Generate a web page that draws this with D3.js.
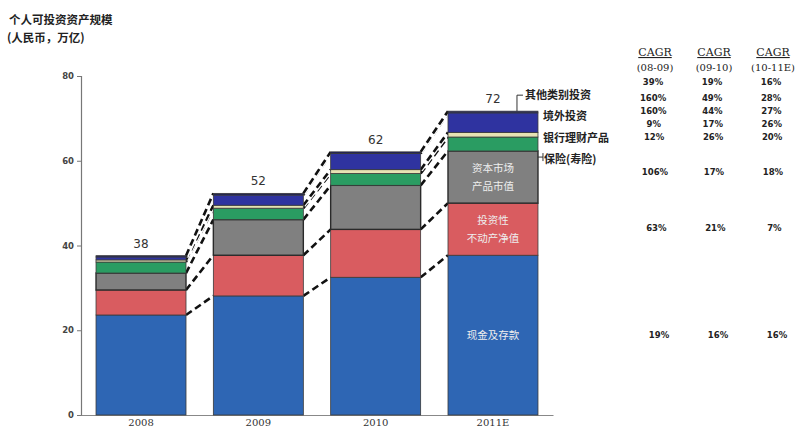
<!DOCTYPE html>
<html><head><meta charset="utf-8">
<script src="https://cdn.jsdelivr.net/npm/d3@7"></script>
<style>body{margin:0;background:#fff;} svg{display:block;}</style>
</head><body>
<svg id="c" width="803" height="430"></svg>
<script>
const years = ["2008", "2009", "2010", "2011E"];
const seriesNames = ["现金及存款", "投资性不动产净值", "资本市场产品市值", "保险(寿险)", "银行理财产品", "境外投资", "其他类别投资"];
const cash      = [23.6, 28.1, 32.5, 37.7];
const property  = [5.9, 9.6, 11.3, 12.3];
const capital   = [4.0, 8.4, 10.4, 12.3];
const insurance = [2.6, 2.7, 2.8, 3.3];
const wealthMgmt= [0.5, 0.7, 0.9, 1.1];
const overseas  = [0.7, 2.4, 3.8, 4.6];
const other     = [0.3, 0.4, 0.4, 0.4];
const totals    = ["38", "52", "62", "72"];
const yTicks    = [0, 20, 40, 60, 80];
const cagrHeaders = [["CAGR", "(08-09)"], ["CAGR", "(09-10)"], ["CAGR", "(10-11E)"]];
const cagrTotal = ["39%", "19%", "16%"];
const cagrRows = [ // top-down: 其他, 境外, 银行理财, 保险, 资本市场, 不动产, 现金
  ["160%", "49%", "28%"],
  ["160%", "44%", "27%"],
  ["9%", "17%", "26%"],
  ["12%", "26%", "20%"],
  ["106%", "17%", "18%"],
  ["63%", "21%", "7%"],
  ["19%", "16%", "16%"]
];

const seriesValues = [cash, property, capital, insurance, wealthMgmt, overseas, other];
const colors = ["#2e66b4", "#d95c60", "#808080", "#2a9c62", "#e6e2b4", "#2f33a0", "#1c1f5c"];

const svg = d3.select("#c");
const x = d3.scaleBand().domain(years).range([81, 553]).paddingInner(0.233).paddingOuter(0.128);
const y = d3.scaleLinear().domain([0, 80]).range([415, 76]);
const bw = x.bandwidth();

const table = years.map((yr, i) => {
  const o = {year: yr};
  seriesNames.forEach((s, k) => o[s] = seriesValues[k][i]);
  return o;
});
const stack = d3.stack().keys(seriesNames)(table);

// title
const tg = svg.append("g").attr("font-family", "'Noto Sans CJK SC', sans-serif").attr("font-weight", "bold").attr("fill", "#222").attr("font-size", 11.5);
tg.append("text").attr("x", 9).attr("y", 24).text("个人可投资资产规模");
tg.append("text").attr("x", 7).attr("y", 42).text("(人民币，万亿)");

// y axis
const ya = svg.append("g").attr("transform", "translate(81,0)")
  .call(d3.axisLeft(y).tickValues(yTicks).tickSize(4).tickPadding(3));
ya.select(".domain").attr("stroke", "#777").attr("stroke-width", 1.2);
ya.selectAll(".tick line").attr("stroke", "#777");
ya.selectAll("text").attr("font-family", "'DejaVu Sans', sans-serif").attr("font-size", 8.5).attr("font-weight", "bold").attr("fill", "#444");

// x axis
const xa = svg.append("g").attr("transform", "translate(0,415)")
  .call(d3.axisBottom(x).tickSize(0).tickPadding(4));
xa.select(".domain").attr("stroke", "#888").attr("stroke-width", 1.2);
xa.selectAll("text").attr("font-family", "'DejaVu Serif', serif").attr("font-size", 10).attr("fill", "#333");

// dashed connectors
const cg = svg.append("g");
stack.forEach(layer => {
  for (let i = 0; i < years.length - 1; i++) {
    const x1 = x(years[i]) + bw, y1 = y(layer[i][1]);
    const x2 = x(years[i + 1]), y2 = y(layer[i + 1][1]);
    cg.append("line").attr("x1", x1).attr("y1", y1).attr("x2", x2).attr("y2", y2)
      .attr("stroke", "#fff").attr("stroke-width", 5);
    cg.append("line").attr("x1", x1).attr("y1", y1).attr("x2", x2).attr("y2", y2)
      .attr("stroke", "#111").attr("stroke-width", 2.6).attr("stroke-dasharray", "7,4");
  }
});

// bars
const bg = svg.append("g");
stack.forEach((layer, k) => {
  bg.selectAll(null).data(layer).enter().append("rect")
    .attr("x", d => x(d.data.year))
    .attr("width", bw)
    .attr("y", d => y(d[1]))
    .attr("height", d => y(d[0]) - y(d[1]))
    .attr("fill", colors[k])
    .attr("stroke", k === 2 ? "#2a2a2a" : "#3a3a3a")
    .attr("stroke-width", k === 2 ? 1.4 : 0.8);
});

// total labels
const topLayer = stack[stack.length - 1];
svg.append("g").selectAll("text").data(topLayer).enter().append("text")
  .attr("x", d => x(d.data.year) + bw / 2)
  .attr("y", d => y(d[1]) - 8)
  .attr("text-anchor", "middle")
  .attr("font-family", "'DejaVu Sans', sans-serif").attr("font-size", 12).attr("fill", "#333")
  .text((d, i) => totals[i]);

// in-bar labels for last bar
const last = years.length - 1;
const cx = x(years[last]) + bw / 2;
const inLabels = [
  {k: 0, lines: ["现金及存款"]},
  {k: 1, lines: ["投资性", "不动产净值"]},
  {k: 2, lines: ["资本市场", "产品市值"]}
];
const ig = svg.append("g").attr("font-family", "'Noto Sans CJK SC', sans-serif").attr("font-size", 10.5).attr("fill", "#eee").attr("text-anchor", "middle");
inLabels.forEach(l => {
  const d = stack[l.k][last];
  const mid = (y(d[0]) + y(d[1])) / 2;
  const n = l.lines.length;
  l.lines.forEach((t, j) => {
    ig.append("text").attr("x", cx).attr("y", mid + (j - (n - 1) / 2) * 18 + 4).text(t);
  });
});

// right-side series labels (evenly spaced)
const rx = x(years[last]) + bw;
const lg = svg.append("g").attr("font-family", "'Noto Sans CJK SC', sans-serif").attr("font-size", 11).attr("font-weight", "bold").attr("fill", "#222");
const yTop = y(topLayer[last][1]);
const l0 = yTop - 16, gap = 21.3;
lg.append("path").attr("d", `M${rx - 21},${yTop} V${l0} H${rx - 15}`).attr("fill", "none").attr("stroke", "#333").attr("stroke-width", 1);
lg.append("text").attr("x", rx - 13).attr("y", l0 + 4).text(seriesNames[6]);
lg.append("text").attr("x", rx + 5).attr("y", l0 + gap + 4).text(seriesNames[5]);
lg.append("text").attr("x", rx + 5).attr("y", l0 + 2 * gap + 4).text(seriesNames[4]);
const yIns = l0 + 3 * gap - 2;
lg.append("path").attr("d", `M${rx},${yIns} H${rx + 5} M${rx + 5},${yIns - 4} V${yIns + 4}`).attr("fill", "none").attr("stroke", "#333").attr("stroke-width", 1);
lg.append("text").attr("x", rx + 6).attr("y", l0 + 3 * gap + 4).text(seriesNames[3]);

// CAGR table
const colX = [655, 714, 773];
const tbl = svg.append("g").attr("font-family", "'DejaVu Sans', sans-serif").attr("fill", "#222").attr("text-anchor", "middle");
const skew = yy => (yy - 97) * 0.025;
cagrHeaders.forEach((h, c) => {
  tbl.append("text").attr("x", colX[c]).attr("y", 56).attr("font-size", 11).attr("text-decoration", "underline").attr("font-family", "'DejaVu Serif', serif").text(h[0]);
  tbl.append("text").attr("x", colX[c]).attr("y", 71).attr("font-size", 10).attr("font-family", "'DejaVu Serif', serif").text(h[1]);
  tbl.append("text").attr("x", colX[c] - 2).attr("y", 85).attr("font-size", 8.5).attr("font-weight", "bold").text(cagrTotal[c]);
});
const rowY = [101, 114, 127, 140, 175, 231, 338];
cagrRows.forEach((row, r) => {
  row.forEach((v, c) => {
    tbl.append("text").attr("x", colX[c] - 2 + skew(rowY[r])).attr("y", rowY[r]).attr("font-size", 8.5).attr("font-weight", "bold").text(v);
  });
});
</script>
</body></html>
